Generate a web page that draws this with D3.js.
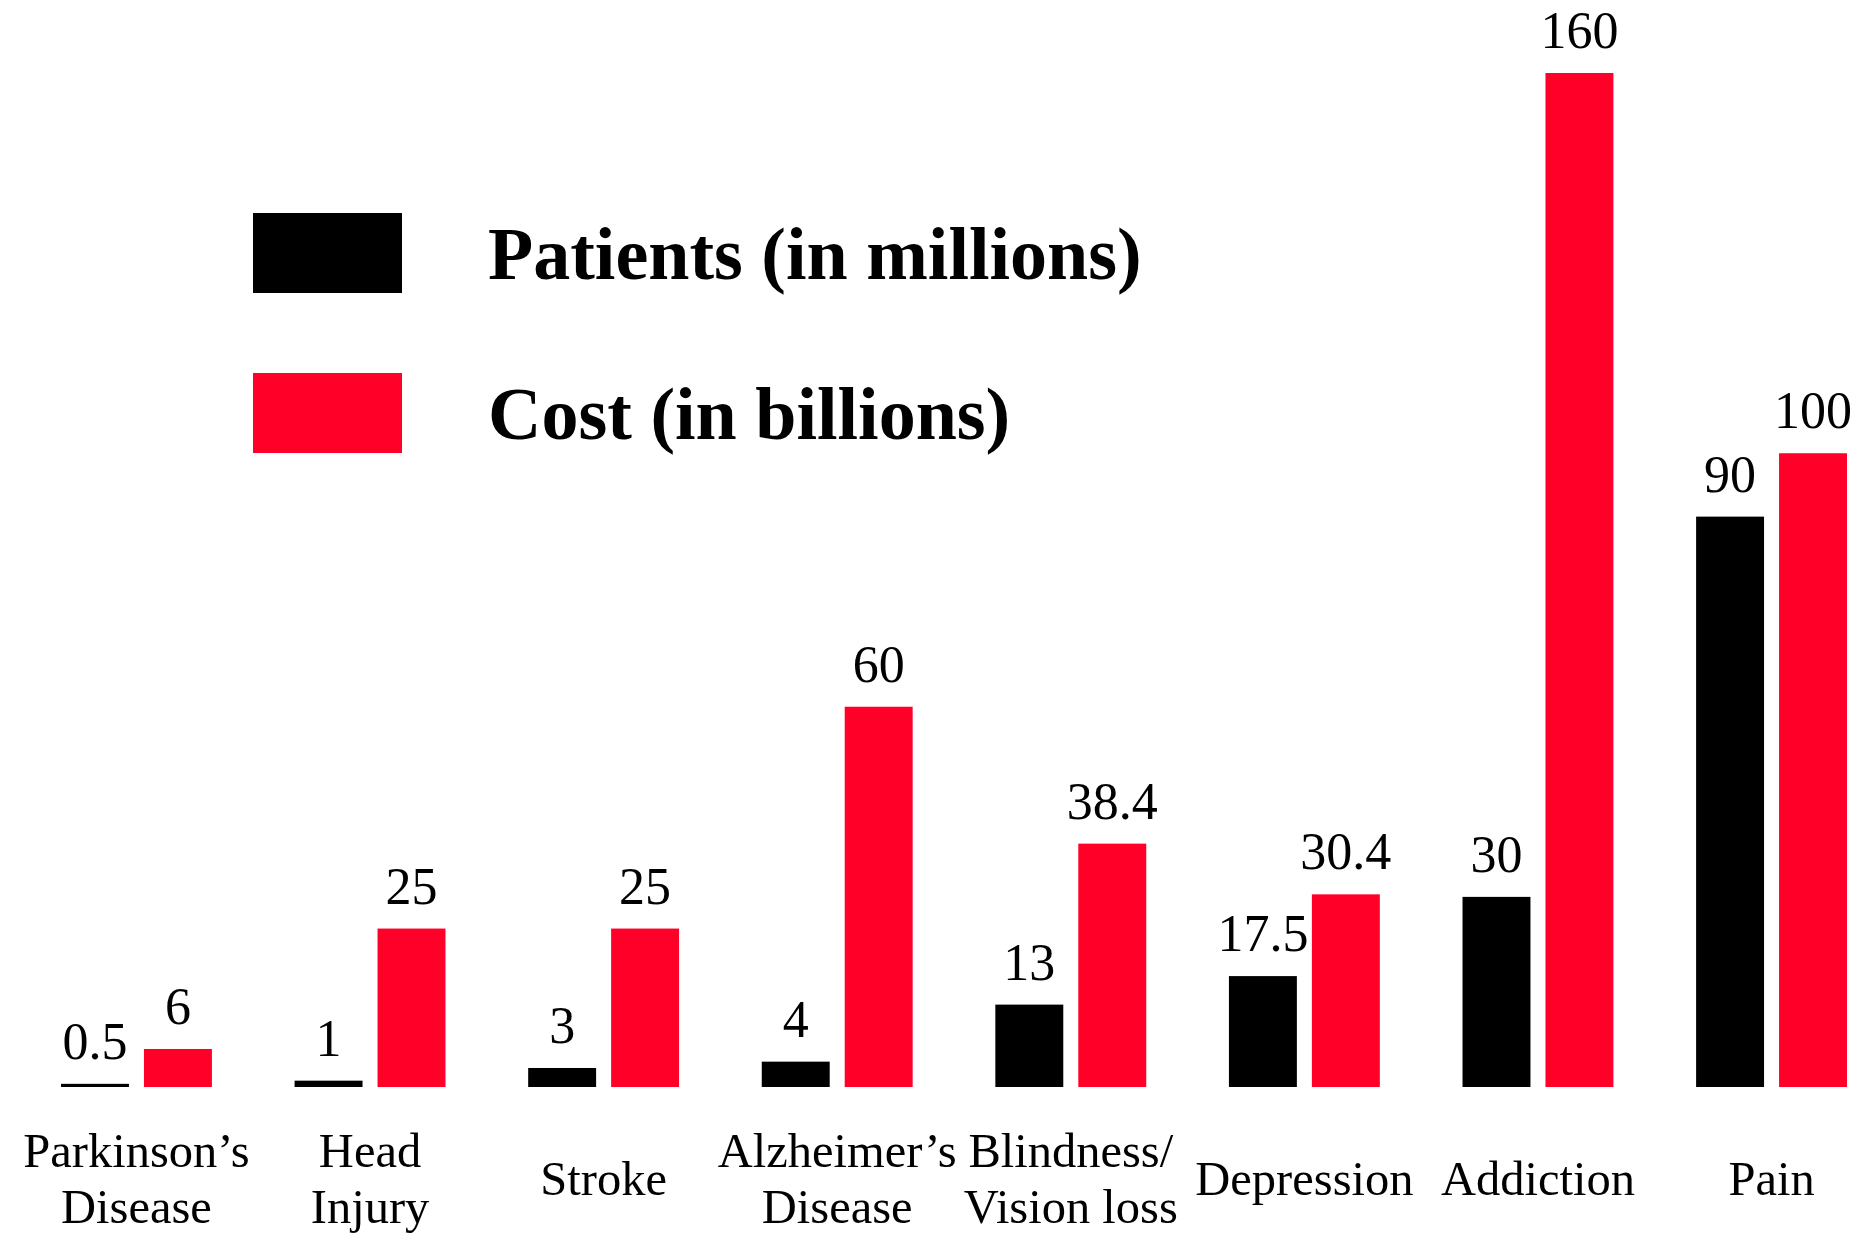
<!DOCTYPE html>
<html>
<head>
<meta charset="utf-8">
<script src="https://cdn.jsdelivr.net/npm/d3@7"></script>
<style>
  html, body { margin: 0; padding: 0; background: #fff; }
  svg { display: block; }
</style>
</head>
<body>
<script>
// ---- data ----
const categories = ["Parkinson’s Disease", "Head Injury", "Stroke", "Alzheimer’s Disease",
                    "Blindness/ Vision loss", "Depression", "Addiction", "Pain"];
const categoryLines = [["Parkinson’s", "Disease"], ["Head", "Injury"], ["Stroke"], ["Alzheimer’s", "Disease"],
                       ["Blindness/", "Vision loss"], ["Depression"], ["Addiction"], ["Pain"]];
const patients = [0.5, 1, 3, 4, 13, 17.5, 30, 90];
const cost = [6, 25, 25, 60, 38.4, 30.4, 160, 100];
const seriesKeys = ["patients", "cost"];
const seriesNames = ["Patients (in millions)", "Cost (in billions)"];
const seriesColors = ["#000000", "#ff0029"];

// ---- layout ----
const W = 1872, H = 1236;
const baseY = 1087, topY = 73;
const svg = d3.select("body").append("svg").attr("width", W).attr("height", H);

const x0 = d3.scaleBand().domain(categories).range([61, 1847]).paddingInner(0.354).paddingOuter(0);
const x1 = d3.scaleBand().domain(seriesKeys).range([0, x0.bandwidth()]).paddingInner(0.181).paddingOuter(0);
const y = d3.scaleLinear().domain([0, 160]).range([baseY, topY]);
const color = d3.scaleOrdinal().domain(seriesKeys).range(seriesColors);

const rows = categories.map((c, i) => ({ cat: c, lines: categoryLines[i], patients: patients[i], cost: cost[i] }));

const groups = svg.append("g").selectAll("g").data(rows).join("g")
  .attr("transform", d => `translate(${x0(d.cat)},0)`);

groups.selectAll("rect").data(d => seriesKeys.map(k => ({ key: k, value: d[k] }))).join("rect")
  .attr("x", d => x1(d.key))
  .attr("y", d => y(d.value))
  .attr("width", x1.bandwidth())
  .attr("height", d => y(0) - y(d.value))
  .attr("fill", d => color(d.key));

groups.selectAll("text.val").data(d => seriesKeys.map(k => ({ key: k, value: d[k] }))).join("text")
  .attr("class", "val")
  .attr("x", d => x1(d.key) + x1.bandwidth() / 2)
  .attr("y", d => y(d.value) - 25)
  .attr("text-anchor", "middle")
  .attr("font-family", "'Liberation Serif', 'Times New Roman', serif")
  .attr("font-size", 52)
  .attr("fill", "#000")
  .text(d => String(d.value));

// category labels
groups.append("text")
  .attr("x", x0.bandwidth() / 2)
  .attr("text-anchor", "middle")
  .attr("font-family", "'Liberation Serif', 'Times New Roman', serif")
  .attr("font-size", 48.5)
  .attr("fill", "#000")
  .each(function (d) {
    const t = d3.select(this);
    const n = d.lines.length;
    d.lines.forEach((ln, j) => {
      t.append("tspan")
        .attr("x", x0.bandwidth() / 2)
        .attr("y", n === 1 ? 1195 : 1167 + j * 56)
        .text(ln);
    });
  });

// legend
const legend = svg.append("g").selectAll("g").data(seriesKeys).join("g")
  .attr("transform", (d, i) => `translate(253,${213 + i * 160})`);
legend.append("rect")
  .attr("width", 149).attr("height", 80)
  .attr("fill", d => color(d));
legend.append("text")
  .attr("x", 235).attr("y", 66)
  .attr("font-family", "'Liberation Serif', 'Times New Roman', serif")
  .attr("font-weight", "bold")
  .attr("font-size", 74)
  .attr("fill", "#000")
  .text((d, i) => seriesNames[i]);
</script>
</body>
</html>
